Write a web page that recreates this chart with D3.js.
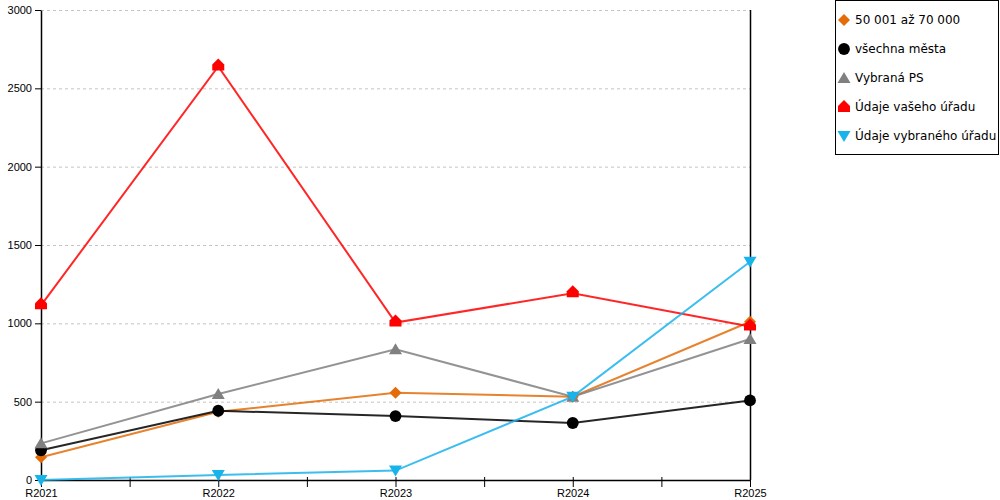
<!DOCTYPE html>
<html>
<head>
<meta charset="utf-8">
<script src="https://cdn.jsdelivr.net/npm/d3@7"></script>
<style>
  body { margin: 0; background: #fff; }
  svg { font-family: "DejaVu Sans", Verdana, sans-serif; }
</style>
</head>
<body>
<script>
// data
var years = ["R2021", "R2022", "R2023", "R2024", "R2025"];
var yTicks = [0, 500, 1000, 1500, 2000, 2500, 3000];

var orangeVals = [145, 435, 557, 532, 1010];   // 50 001 až 70 000
var blackVals = [190, 442, 408, 364, 508];     // všechna města
var grayVals = [234, 549, 834, 532, 900];      // Vybraná PS
var redVals = [1115, 2640, 1005, 1192, 980];   // Údaje vašeho úřadu
var blueVals = [0, 32, 60, 532, 1393];         // Údaje vybraného úřadu

var series = [
    { name: "50 001 až 70 000", values: orangeVals, color: "#e36c09", shape: "diamond" },
    { name: "všechna města", values: blackVals, color: "#000000", shape: "circle" },
    { name: "Vybraná PS", values: grayVals, color: "#808080", shape: "triangle" },
    { name: "Údaje vašeho úřadu", values: redVals, color: "#ff0000", shape: "house" },
    { name: "Údaje vybraného úřadu", values: blueVals, color: "#19b3ec", shape: "down" }
];

var width = 1000, height = 500;
var plotLeft = 41, plotRight = 750, plotTop = 10, plotBottom = 480;

var svg = d3.select("body").append("svg")
    .attr("width", width)
    .attr("height", height);

var x = d3.scaleLinear().domain([0, years.length - 1]).range([plotLeft, plotRight]);
var y = d3.scaleLinear().domain([0, 3000]).range([plotBottom, plotTop]);

// grid lines
svg.append("g")
    .selectAll("line")
    .data(yTicks.filter(function (d) { return d > 0; }))
    .enter().append("line")
    .attr("x1", plotLeft).attr("x2", plotRight)
    .attr("y1", function (d) { return y(d) + 0.5; })
    .attr("y2", function (d) { return y(d) + 0.5; })
    .attr("stroke", "#c4c4c4")
    .attr("stroke-dasharray", "3,3");

// right border line
svg.append("line")
    .attr("x1", plotRight + 0.5).attr("x2", plotRight + 0.5)
    .attr("y1", plotTop).attr("y2", plotBottom)
    .attr("stroke", "#000").attr("stroke-width", 1.5);

// y axis
var yAxis = d3.axisLeft(y).tickValues(yTicks).tickSize(6).tickSizeOuter(0)
    .tickFormat(d3.format("d"));
var yg = svg.append("g")
    .attr("transform", "translate(" + plotLeft + ",0)")
    .call(yAxis);
yg.select(".domain").attr("stroke-width", 1.5);
yg.selectAll("text").attr("font-size", "11px").attr("fill", "#000").attr("x", -9);

// x axis with minor ticks between categories
var xTickVals = d3.range(0, years.length - 0.5, 0.5);
var xAxis = d3.axisBottom(x).tickValues(xTickVals).tickSize(6).tickSizeOuter(0)
    .tickFormat(function (d) { return d % 1 === 0 ? years[d] : ""; });
var xg = svg.append("g")
    .attr("transform", "translate(0," + plotBottom + ")")
    .call(xAxis);
xg.select(".domain").attr("stroke-width", 1.5);
xg.selectAll(".tick line").attr("y1", -3).attr("y2", 7);
xg.selectAll("text").attr("font-size", "11px").attr("fill", "#000").attr("y", 9);
svg.selectAll(".domain").attr("fill", "none");

// marker paths
function markerPath(shape) {
    if (shape === "diamond") return "M0,-6L6,0L0,6L-6,0Z";
    if (shape === "circle") return d3.symbol(d3.symbolCircle, 110)();
    if (shape === "triangle") return "M0,-6L6.5,5L-6.5,5Z";
    if (shape === "down") return "M0,6L6.5,-5L-6.5,-5Z";
    if (shape === "house") return "M0,-8L6,-2L6,4L-6,4L-6,-2Z";
}

var line = d3.line()
    .x(function (d, i) { return x(i); })
    .y(function (d) { return y(d); });

series.forEach(function (s) {
    var g = svg.append("g");
    g.append("path")
        .datum(s.values)
        .attr("d", line)
        .attr("fill", "none")
        .attr("stroke", s.color)
        .attr("stroke-opacity", 0.85)
        .attr("stroke-width", 2);
    g.selectAll(".pt")
        .data(s.values)
        .enter().append("path")
        .attr("class", "pt")
        .attr("transform", function (d, i) { return "translate(" + x(i) + "," + y(d) + ")"; })
        .attr("d", markerPath(s.shape))
        .attr("fill", s.color);
});

// legend
var lg = svg.append("g");
lg.append("rect")
    .attr("x", 835.5).attr("y", 0.5)
    .attr("width", 163).attr("height", 154)
    .attr("fill", "#fff").attr("stroke", "#000");
series.forEach(function (s, i) {
    var cy = 20 + i * 29;
    lg.append("path")
        .attr("transform", "translate(844," + (cy + (s.shape === "house" ? 1 : 0)) + ")")
        .attr("d", markerPath(s.shape))
        .attr("fill", s.color);
    lg.append("text")
        .attr("x", 855).attr("y", cy)
        .attr("dy", "0.35em")
        .attr("font-size", "12px")
        .attr("fill", "#000")
        .text(s.name);
});
</script>
</body>
</html>
